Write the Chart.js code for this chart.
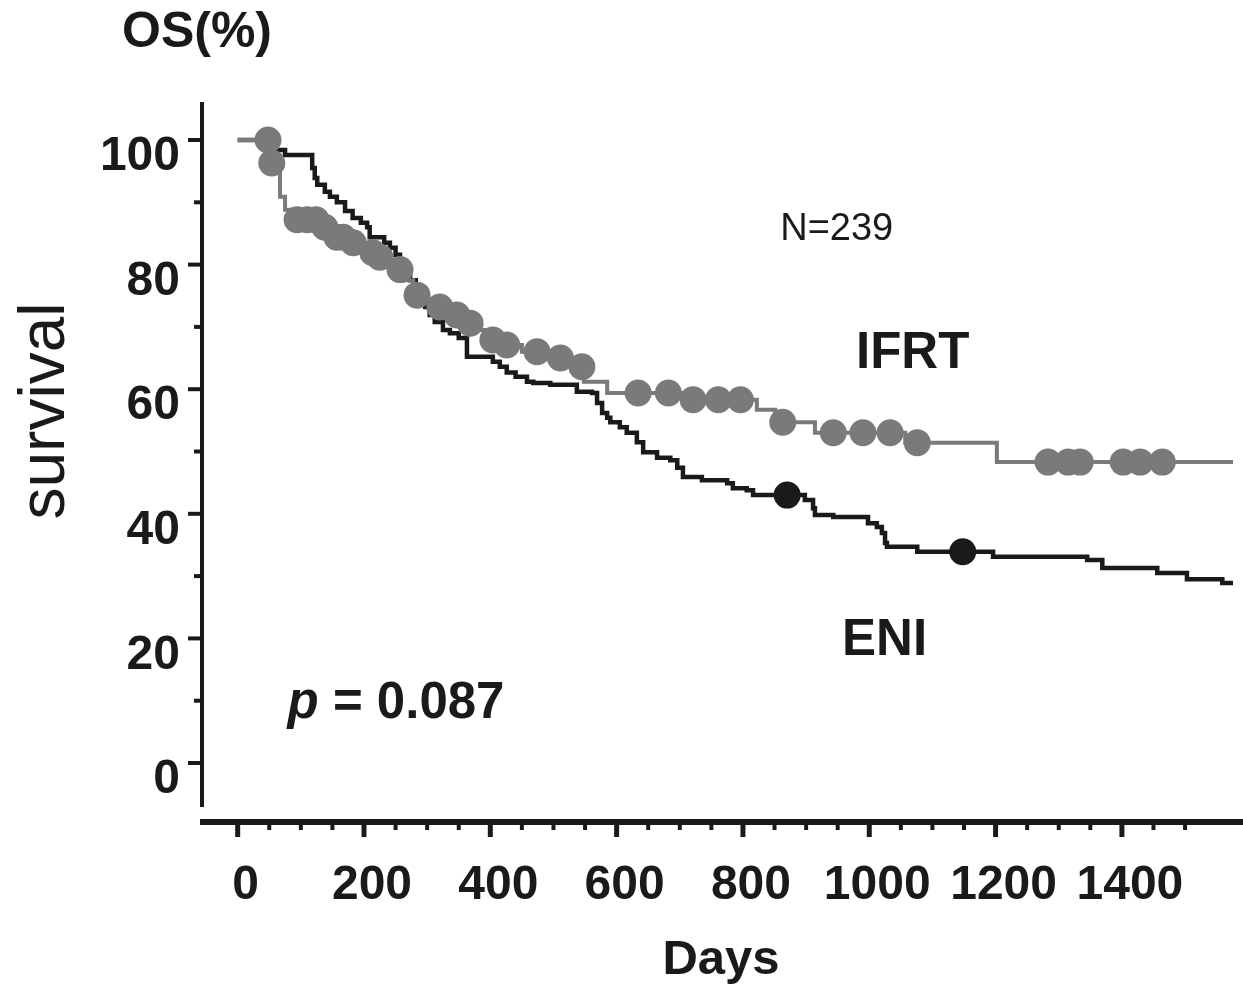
<!DOCTYPE html>
<html>
<head>
<meta charset="utf-8">
<title>OS by arm</title>
<script src="https://cdn.jsdelivr.net/npm/chart.js@4.4.0/dist/chart.umd.min.js"></script>
<style>
  html, body { margin: 0; padding: 0; background: #ffffff; }
  #wrap { width: 1243px; height: 993px; position: relative; }
</style>
</head>
<body>
<div id="wrap"><canvas id="osChart" width="1243" height="993"></canvas></div>
<script>
// ---------------------------------------------------------
// DATA
// ---------------------------------------------------------

// ENI arm: step points (day, OS %)
const eniDays = [0, 59, 75, 118, 122, 126, 138, 146, 157, 170, 182, 195, 205, 209, 232, 241, 250, 257, 265, 273,
    282, 289, 297, 304, 312, 325, 336, 350, 363, 404, 415, 426, 440, 458, 468, 495, 537, 561, 569, 577,
    585, 590, 605, 616, 632, 642, 664, 685, 696, 705, 735, 775, 784, 806, 816, 898, 911, 914, 943, 998,
    1012, 1020, 1025, 1028, 1076, 1196, 1345, 1369, 1456, 1503, 1559, 1576];
const eniSurv = [100, 98.4, 97.6, 95.5, 93.9, 92.8, 91.7, 90.9, 90.0, 88.6, 87.5, 86.7, 86.0, 84.4, 83.5, 82.7, 81.6, 80.4, 79.2, 77.5,
    76.0, 74.6, 73.2, 71.9, 70.8, 69.5, 69.0, 68.2, 65.2, 64.4, 63.6, 62.7, 62.0, 61.2, 61.0, 60.7, 59.6, 59.4, 57.8, 56.2,
    55.4, 54.7, 53.9, 53.0, 51.5, 49.9, 49.0, 48.6, 47.4, 45.9, 45.4, 44.9, 44.1, 43.8, 43.0, 42.2, 40.9, 39.8, 39.5, 38.5,
    37.9, 36.9, 35.3, 34.7, 33.9, 33.1, 32.6, 31.3, 30.5, 29.5, 28.9, 28.9];
const eniCensorDays = [870, 1148];

// IFRT arm: step points (day, OS %)
const ifrtDays = [0, 50, 67, 75, 83, 130, 150, 175, 200, 214, 222, 240, 250, 265, 278, 300, 315, 335, 360, 380,
    395, 420, 450, 495, 530, 548, 585, 717, 822, 851, 914, 1057, 1202, 1576];
const ifrtSurv = [100, 96.3, 90.9, 88.8, 87.2, 86.0, 84.4, 83.5, 82.5, 81.9, 81.2, 80.0, 79.2, 77.5, 75.1, 74.0, 73.2, 71.9, 70.6, 69.5,
    67.9, 67.1, 66.0, 65.0, 63.6, 61.2, 59.4, 58.3, 56.7, 54.7, 53.0, 51.4, 48.3, 48.3];
const ifrtCensorDays = [48, 54, 94, 110, 124, 138, 157, 167, 183, 214, 225, 257, 284, 320, 347, 368, 404, 426, 474, 511,
    545, 634, 682, 721, 761, 796, 863, 943, 990, 1033, 1076, 1283, 1315, 1334, 1402, 1429, 1464];

// axis ticks
const xTicks = [0, 200, 400, 600, 800, 1000, 1200, 1400];
const yTicks = [0, 20, 40, 60, 80, 100];

// ---------------------------------------------------------
// HELPERS
// ---------------------------------------------------------

const INK = '#1a1a1a';
const GREY = '#7a7a7a';
const FONT = "'Liberation Sans', Arial, Helvetica, sans-serif";

function toPoints(days, surv) {
    return days.map((d, i) => ({ x: d, y: surv[i] }));
}

// survival level of a step curve at day t (for placing censor marks on the line)
function levelAt(days, surv, t) {
    let v = surv[0];
    for (let i = 0; i < days.length; i++) {
        if (days[i] <= t) v = surv[i];
    }
    return v;
}

function censorPoints(censorDays, days, surv) {
    return censorDays.map(d => ({ x: d, y: levelAt(days, surv, d) }));
}

// ---------------------------------------------------------
// PLUGINS: detached axes and annotations
// ---------------------------------------------------------

const kmAxes = {
    id: 'kmAxes',
    beforeDatasetsDraw(chart) {
        const { ctx, chartArea, scales: { x, y } } = chart;
        ctx.save();
        ctx.strokeStyle = INK;
        ctx.lineCap = 'butt';

        // y axis line + ticks
        const yx = chartArea.left;
        ctx.lineWidth = 4;
        ctx.beginPath();
        ctx.moveTo(yx, chartArea.top);
        ctx.lineTo(yx, chartArea.bottom);
        ctx.stroke();
        yTicks.forEach((v, i) => {
            const py = y.getPixelForValue(v);
            ctx.beginPath(); ctx.moveTo(yx - 14, py); ctx.lineTo(yx, py); ctx.stroke();
            if (i < yTicks.length - 1) {
                const pm = y.getPixelForValue((v + yTicks[i + 1]) / 2);
                ctx.beginPath(); ctx.moveTo(yx - 8, pm); ctx.lineTo(yx, pm); ctx.stroke();
            }
        });

        // x axis line (sits below the y axis, not joined)
        const xy = chartArea.bottom + 15;
        ctx.lineWidth = 6;
        ctx.beginPath();
        ctx.moveTo(chartArea.left - 2, xy);
        ctx.lineTo(chart.width, xy);
        ctx.stroke();

        const step = xTicks[1] - xTicks[0];
        const lastMajor = xTicks[xTicks.length - 1];
        ctx.lineWidth = 5;
        xTicks.forEach(v => {
            const px = x.getPixelForValue(v);
            ctx.beginPath(); ctx.moveTo(px, xy); ctx.lineTo(px, xy + 15); ctx.stroke();
        });
        ctx.lineWidth = 4;
        for (let v = xTicks[0] + step / 4; v <= lastMajor + step / 2; v += step / 4) {
            if (xTicks.includes(v)) continue;
            const px = x.getPixelForValue(v);
            ctx.beginPath(); ctx.moveTo(px, xy); ctx.lineTo(px, xy + 8); ctx.stroke();
        }
        ctx.restore();
    }
};

const kmText = {
    id: 'kmText',
    afterDatasetsDraw(chart) {
        const { ctx, chartArea, scales: { x, y } } = chart;
        ctx.save();
        ctx.fillStyle = INK;
        ctx.textBaseline = 'alphabetic';
        ctx.textAlign = 'left';

        // axis caption above the y axis
        ctx.font = `bold 50px ${FONT}`;
        ctx.fillText('OS(%)', chartArea.left - 80, chartArea.top - 55);

        // rotated y title
        ctx.save();
        ctx.translate(chartArea.left - 138, y.getPixelForValue(56.5));
        ctx.rotate(-Math.PI / 2);
        ctx.textAlign = 'center';
        ctx.font = `64px ${FONT}`;
        ctx.fillText('survival', 0, 0);
        ctx.restore();

        ctx.font = `38px ${FONT}`;
        ctx.fillText('N=239', x.getPixelForValue(859), y.getPixelForValue(84.0));

        ctx.font = `bold 51px ${FONT}`;
        ctx.fillText('IFRT', x.getPixelForValue(979), y.getPixelForValue(63.4));
        ctx.fillText('ENI', x.getPixelForValue(957), y.getPixelForValue(17.3));

        // p value, italic p
        const px = x.getPixelForValue(79);
        const py = y.getPixelForValue(7.2);
        ctx.font = `italic bold 51px ${FONT}`;
        ctx.fillText('p', px, py);
        const w = ctx.measureText('p').width;
        ctx.font = `bold 51px ${FONT}`;
        ctx.fillText(' = 0.087', px + w, py);
        ctx.restore();
    }
};

// ---------------------------------------------------------
// CHART
// ---------------------------------------------------------

const ctx = document.getElementById('osChart');

new Chart(ctx, {
    type: 'scatter',
    data: {
        datasets: [
            {
                type: 'line',
                label: 'ENI',
                data: toPoints(eniDays, eniSurv),
                stepped: true,
                borderColor: INK,
                borderWidth: 4.5,
                pointRadius: 0,
                fill: false,
                order: 4
            },
            {
                type: 'line',
                label: 'IFRT',
                data: toPoints(ifrtDays, ifrtSurv),
                stepped: true,
                borderColor: GREY,
                borderWidth: 4,
                pointRadius: 0,
                fill: false,
                order: 3
            },
            {
                label: 'IFRT censored',
                data: censorPoints(ifrtCensorDays, ifrtDays, ifrtSurv),
                pointRadius: 13.5,
                pointBackgroundColor: GREY,
                pointBorderWidth: 0,
                order: 2
            },
            {
                label: 'ENI censored',
                data: censorPoints(eniCensorDays, eniDays, eniSurv),
                pointRadius: 13.5,
                pointBackgroundColor: INK,
                pointBorderWidth: 0,
                order: 1
            }
        ]
    },
    options: {
        responsive: false,
        animation: false,
        devicePixelRatio: 1,
        layout: { autoPadding: false, padding: { left: 0, top: 102, right: 3, bottom: 0 } },
        plugins: {
            legend: { display: false },
            tooltip: { enabled: false }
        },
        scales: {
            x: {
                type: 'linear',
                min: -56.5,
                max: 1587,
                afterBuildTicks: (scale) => { scale.ticks = xTicks.map(v => ({ value: v })); },
                afterFit: (scale) => {
                    scale.height = 186;
                    scale.paddingLeft = 0;
                    scale.paddingRight = 0;
                },
                grid: { display: false, drawTicks: false },
                border: { display: false },
                ticks: {
                    autoSkip: false,
                    maxRotation: 0,
                    minRotation: 0,
                    padding: 50,
                    labelOffset: 8,
                    color: INK,
                    font: { family: FONT, size: 48, weight: 'bold' },
                    callback: (value) => String(value)
                },
                title: {
                    display: true,
                    text: 'Days',
                    color: INK,
                    padding: { top: 0, bottom: 3 },
                    font: { family: FONT, size: 49, weight: 'bold' }
                }
            },
            y: {
                type: 'linear',
                min: -7.06,
                max: 106.1,
                afterBuildTicks: (scale) => { scale.ticks = yTicks.map(v => ({ value: v })); },
                afterFit: (scale) => {
                    scale.width = 202;
                    scale.paddingTop = 0;
                    scale.paddingBottom = 0;
                },
                grid: { display: false, drawTicks: false },
                border: { display: false },
                ticks: {
                    padding: 22,
                    labelOffset: 17,
                    color: INK,
                    font: { family: FONT, size: 48, weight: 'bold' },
                    callback: (value) => String(value)
                }
            }
        }
    },
    plugins: [kmAxes, kmText]
});
</script>
</body>
</html>
